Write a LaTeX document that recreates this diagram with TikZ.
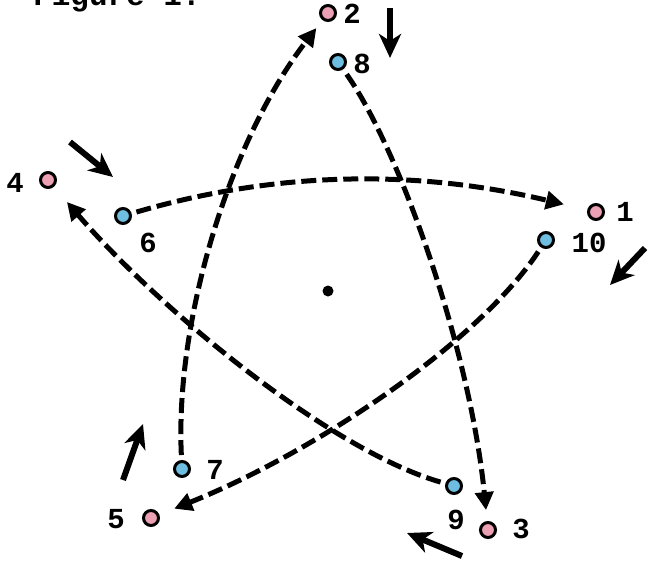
\documentclass[tikz,border=0pt]{standalone}
\usepackage{fontspec}
\setmainfont{Liberation Mono}
\usetikzlibrary{arrows.meta}
\definecolor{dotpink}{RGB}{235,160,180}
\definecolor{dotblue}{RGB}{110,190,225}
\begin{document}
\begin{tikzpicture}[x=1pt,y=-1pt,
  dot/.style={circle,draw=black,line width=3pt,minimum size=15pt,inner sep=0pt},
  pinkdot/.style={dot,fill=dotpink},
  bluedot/.style={dot,fill=dotblue},
  lbl/.style={font=\fontsize{29}{29}\selectfont\bfseries,inner sep=0pt},
  ttl/.style={font=\fontsize{31}{31}\selectfont\bfseries,inner sep=0pt},
  dasharrow/.style={line width=5pt,dash pattern=on 15pt off 6pt,
     -{Triangle[length=18pt,width=18pt]}},
  solidarrow/.style={line width=6pt,-{Stealth[length=24pt,width=22pt,inset=7pt]}}]
\useasboundingbox (0,0) rectangle (650,565);
\node[ttl,anchor=base west] (title) at (33,5) {Figure 1.};
% dots
\node[pinkdot] (n1) at (596,212) {};
\node[pinkdot] (n2) at (328,13) {};
\node[pinkdot] (n3) at (488,530) {};
\node[pinkdot] (n4) at (48,180) {};
\node[pinkdot] (n5) at (151,518) {};
\node[bluedot] (n6) at (123,216) {};
\node[bluedot] (n7) at (182,469) {};
\node[bluedot] (n8) at (338,62) {};
\node[bluedot] (n9) at (454,486) {};
\node[bluedot] (n10) at (546,240) {};
\node[fill=black,circle,minimum size=11pt,inner sep=0pt] (c) at (328,291) {};
% labels
\node[lbl] (l1) at (625,212) {1};
\node[lbl] (l2) at (352,14) {2};
\node[lbl] (l3) at (521,529) {3};
\node[lbl] (l4) at (15,183) {4};
\node[lbl] (l5) at (116,519) {5};
\node[lbl] (l6) at (148,243) {6};
\node[lbl] (l7) at (215,470) {7};
\node[lbl] (l8) at (362,64) {8};
\node[lbl] (l9) at (456,520) {9};
\node[lbl] (l10) at (589,243) {10};
% dashed star
\draw[dasharrow,shorten <=5pt,shorten >=24pt] (n6) .. controls (280,170) and (420,170) .. (n1);
\draw[dasharrow,shorten <=6pt,shorten >=11pt] (n8) .. controls (400,150) and (470,350) .. (n3);
\draw[dasharrow,shorten <=5pt,shorten >=16pt] (n10) .. controls (480,340) and (320,450) .. (n5);
\draw[dasharrow,shorten <=5pt,shorten >=20pt] (n9) .. controls (330,450) and (160,310) .. (n4);
\draw[dasharrow,shorten <=5pt,shorten >=10pt] (n7) .. controls (175,320) and (230,140) .. (n2);
% solid arrows
\coordinate (a1s) at (390,8);   \coordinate (a1e) at (390,58);
\coordinate (a2s) at (70,142);  \coordinate (a2e) at (113,177);
\coordinate (a3s) at (645,248); \coordinate (a3e) at (610,285);
\coordinate (a4s) at (123,480); \coordinate (a4e) at (143,424);
\coordinate (a5s) at (462,556); \coordinate (a5e) at (407,533);
\draw[solidarrow] (a1s) -- (a1e);
\draw[solidarrow] (a2s) -- (a2e);
\draw[solidarrow] (a3s) -- (a3e);
\draw[solidarrow] (a4s) -- (a4e);
\draw[solidarrow] (a5s) -- (a5e);
\end{tikzpicture}
\end{document}
